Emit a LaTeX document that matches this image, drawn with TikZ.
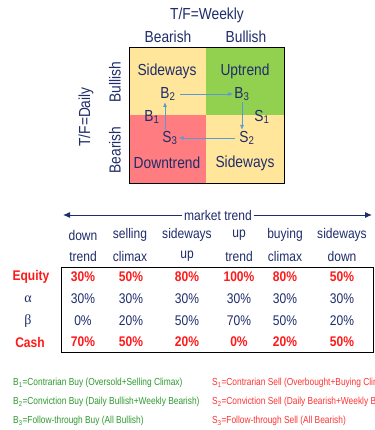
\documentclass[tikz,border=0pt]{standalone}
\usepackage{fontspec}
\setmainfont[FakeStretch=0.86]{Liberation Sans}
\newfontfamily\greekf{Liberation Serif}
\newfontfamily\legf[FakeStretch=0.82]{Liberation Sans}
\usetikzlibrary{arrows.meta}
\definecolor{navy}{HTML}{1F2D6B}
\definecolor{cellY}{HTML}{FFE69A}
\definecolor{cellG}{HTML}{92D050}
\definecolor{cellR}{HTML}{FF7C80}
\definecolor{arrB}{HTML}{5B9BD5}
\definecolor{redT}{HTML}{FF1A1A}
\definecolor{legG}{HTML}{2E9A2E}
\definecolor{legR}{HTML}{FF3333}
\tikzset{
  gtxt/.style={text=navy, font=\fontsize{16}{18}\selectfont, inner sep=1pt},
  ttxt/.style={text=navy, font=\fontsize{14}{16}\selectfont, inner sep=1pt},
  rtxt/.style={text=redT, font=\fontsize{14}{16}\selectfont\bfseries, inner sep=1pt},
  legb/.style={text=legG, font=\legf\fontsize{10.2}{12}\selectfont, anchor=west, inner sep=0pt},
  legs/.style={text=legR, font=\legf\fontsize{10.2}{12}\selectfont, anchor=west, inner sep=0pt},
  flow/.style={draw=arrB, line width=0.8pt, -{Latex[length=5pt,width=4pt]}},
}
\begin{document}
\begin{tikzpicture}[x=1pt,y=-1pt]
\clip (0,0) rectangle (374,430);
\fill[white] (0,0) rectangle (374,430);
% grid cells
\fill[cellY] (129,48) rectangle (206,115);
\fill[cellG] (206,48) rectangle (284,115);
\fill[cellR] (129,115) rectangle (206,184);
\fill[cellY] (206,115) rectangle (284,184);
\draw[black, line width=1pt] (129,48) rectangle (284,184);
% axis labels
\node[gtxt] (wk) at (207,15) {T/F=Weekly};
\node[gtxt] (wbe) at (168,37) {Bearish};
\node[gtxt] (wbu) at (246,37) {Bullish};
\node[gtxt, rotate=90] (dy) at (86,117) {T/F=Daily};
\node[gtxt, rotate=90] (dbu) at (115,82) {Bullish};
\node[gtxt, rotate=90] (dbe) at (115,150) {Bearish};
% cell texts
\node[gtxt] (sw1) at (167,71) {Sideways};
\node[gtxt] (upt) at (245,71) {Uptrend};
\node[gtxt] (dnt) at (167,163) {Downtrend};
\node[gtxt] (sw2) at (245,163) {Sideways};
\node[gtxt] (B2) at (168,94) {B\textsubscript{2}};
\node[gtxt] (B3) at (242,94) {B\textsubscript{3}};
\node[gtxt] (B1) at (152,117) {B\textsubscript{1}};
\node[gtxt] (S1) at (262,117) {S\textsubscript{1}};
\node[gtxt] (S2) at (247,138) {S\textsubscript{2}};
\node[gtxt] (S3) at (170,138) {S\textsubscript{3}};
\draw[flow] (B2.east) ++(3,0) coordinate (b2e) -- (b2e -| B3.west);
\draw[flow] ([xshift=0pt]B3.south) -- ([xshift=0pt]B3.south |- S2.north);
\draw[flow] (S2.west) ++(-3,0) coordinate (s2w) -- (s2w -| S3.east);
\draw[flow] ([xshift=-5pt]S3.north) -- ([xshift=-5pt]S3.north |- B2.south);
% market trend arrow
\node[ttxt, fill=white, inner xsep=2pt] (mt) at (218,215) {market trend};
\draw[navy, line width=1pt, -{Latex[length=7pt,width=6pt]}] (mt.west) -- (63,215) coordinate (mtl);
\draw[navy, line width=1pt, -{Latex[length=7pt,width=6pt]}] (mt.east) -- (372,215) coordinate (mtr);
% column headers
\foreach \x/\a/\b [count=\i] in {83/down/trend,130/selling/climax,187/sideways/up,239/up/trend,285/buying/climax,342/sideways/down}{
  \node[ttxt] (ha\i) at (\x,235) {\a};
  \node[ttxt] (hb\i) at (\x,256) {\b};
}
% table box
\draw[black, line width=1pt] (61,267) rectangle (373,352);
% row labels
\node[rtxt] (lEq) at (31,277) {Equity};
\node[ttxt] (lAl) at (28,299) {\greekf α};
\node[ttxt] (lBe) at (28,321) {\greekf β};
\node[rtxt] (lCa) at (30,342) {Cash};
% values
\foreach \x/\e/\al/\be/\c [count=\i] in {83/30/30/0/70,131/50/30/20/50,187/80/30/50/20,239/100/30/70/0,285/80/30/50/20,342/50/30/20/50}{
  \node[rtxt] (e\i) at (\x,277) {\e\%};
  \node[ttxt] (a\i) at (\x,299) {\al\%};
  \node[ttxt] (b\i) at (\x,321) {\be\%};
  \node[rtxt] (c\i) at (\x,342) {\c\%};
}
% legend
\node[legb] (lb1) at (13,383) {B\textsubscript{1}=Contrarian Buy (Oversold+Selling Climax)};
\node[legb] (lb2) at (13,402) {B\textsubscript{2}=Conviction Buy (Daily Bullish+Weekly Bearish)};
\node[legb] (lb3) at (13,421) {B\textsubscript{3}=Follow-through Buy (All Bullish)};
\node[legs] (ls1) at (212,383) {S\textsubscript{1}=Contrarian Sell (Overbought+Buying Climax)};
\node[legs] (ls2) at (212,402) {S\textsubscript{2}=Conviction Sell (Daily Bearish+Weekly Bullish)};
\node[legs] (ls3) at (212,421) {S\textsubscript{3}=Follow-through Sell (All Bearish)};
\end{tikzpicture}
\end{document}
